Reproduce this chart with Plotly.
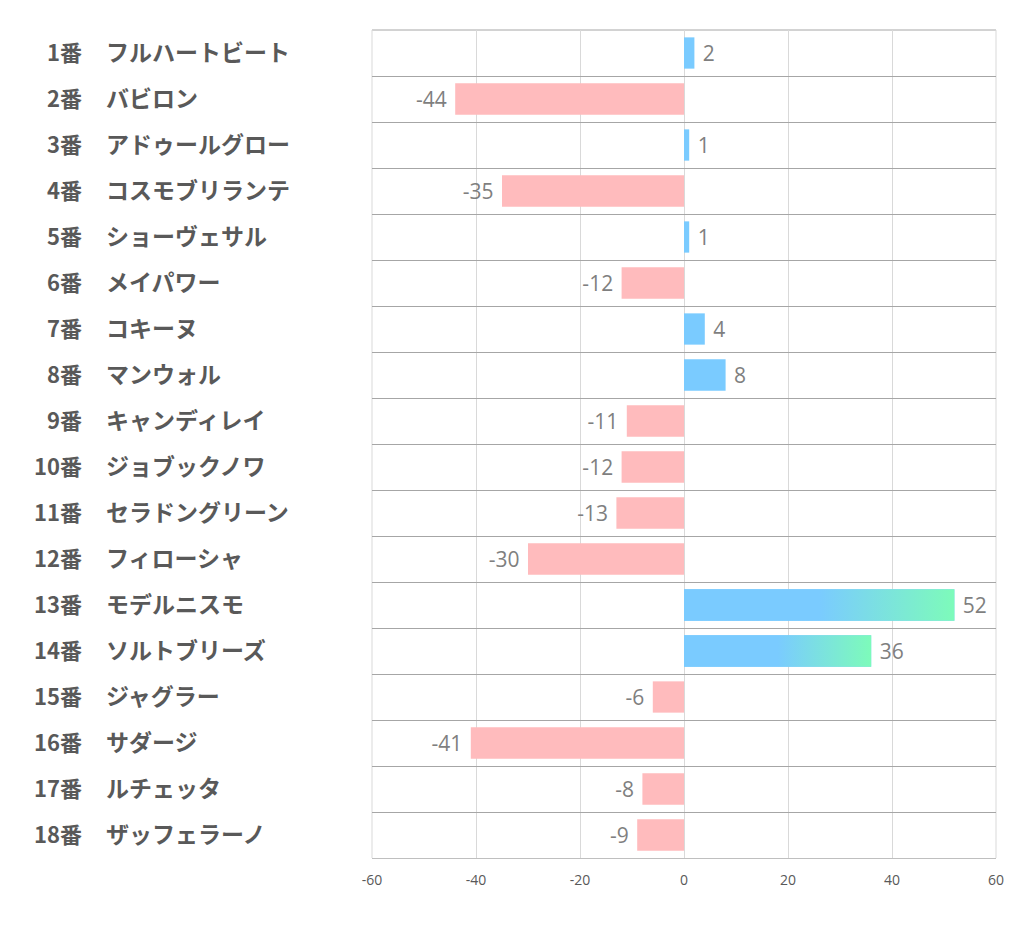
import plotly.graph_objects as go

numbers = ["1番", "2番", "3番", "4番", "5番", "6番", "7番", "8番", "9番",
           "10番", "11番", "12番", "13番", "14番", "15番", "16番", "17番", "18番"]
names = ["フルハートビート", "バビロン", "アドゥールグロー", "コスモブリランテ", "ショーヴェサル",
         "メイパワー", "コキーヌ", "マンウォル", "キャンディレイ", "ジョブックノワ",
         "セラドングリーン", "フィローシャ", "モデルニスモ", "ソルトブリーズ", "ジャグラー",
         "サダージ", "ルチェッタ", "ザッフェラーノ"]
values = [2, -44, 1, -35, 1, -12, 4, 8, -11, -12, -13, -30, 52, 36, -6, -41, -8, -9]
highlight = ["13番", "14番"]
x_ticks = [-60, -40, -20, 0, 20, 40, 60]

BLUE = "#7ACBFF"
PINK = "#FFBBBD"
GREEN = "#7DFBBA"
LABEL = "#595959"

n = len(values)
ypos = list(range(n))
bar_w = 0.68

fig = go.Figure()
fig.add_trace(go.Bar(
    x=values, y=ypos, orientation="h", width=bar_w,
    marker=dict(color=[BLUE if v >= 0 else PINK for v in values], line=dict(width=0)),
    text=[(" " + str(v)) if v >= 0 else (str(v) + " ") for v in values],
    textposition="outside",
    textfont=dict(family="Open Sans", size=21, color="#7F7F7F"),
    cliponaxis=False, hoverinfo="skip",
))

for num in highlight:
    i = numbers.index(num)
    v = values[i]
    h = bar_w / 2
    fig.add_trace(go.Scatter(
        x=[0, v, v, 0, 0], y=[i - h, i - h, i + h, i + h, i - h],
        mode="lines", line=dict(width=0), fill="toself",
        fillgradient=dict(type="horizontal",
                          colorscale=[[0, BLUE], [0.5, BLUE], [1, GREEN]]),
        hoverinfo="skip", showlegend=False,
    ))

for i in range(n):
    fig.add_annotation(x=-0.461, y=i, xref="paper", yref="y", text=numbers[i],
                       xanchor="right", yanchor="middle", showarrow=False, yshift=2,
                       font=dict(family="Noto Sans CJK JP", size=22, color=LABEL, weight="bold"))
    fig.add_annotation(x=-0.43, y=i, xref="paper", yref="y", text=names[i],
                       xanchor="left", yanchor="middle", showarrow=False, yshift=2,
                       font=dict(family="Noto Sans CJK JP", size=23, color=LABEL, weight="bold"))

# plot frame: dark top line, light left/right lines
fig.add_shape(type="line", xref="paper", yref="paper", x0=0, x1=1, y0=1, y1=1,
              line=dict(color="#A6A6A6", width=1), layer="below")
for xp in (0, 1):
    fig.add_shape(type="line", xref="paper", yref="paper", x0=xp, x1=xp, y0=0, y1=1,
                  line=dict(color="#D9D9D9", width=1), layer="below")

fig.update_layout(
    width=1014, height=931,
    margin=dict(l=364, r=26, t=22, b=81),
    plot_bgcolor="white", paper_bgcolor="white",
    showlegend=False, bargap=0.32,
    xaxis=dict(range=[-60, 60], tickvals=x_ticks, ticktext=[str(t) for t in x_ticks],
               showgrid=True, gridcolor="#D9D9D9", gridwidth=1, zeroline=False,
               showline=True, linecolor="#BFBFBF", linewidth=1, ticks="",
               ticklabelstandoff=9,
               tickfont=dict(family="Open Sans", size=14, color=LABEL), fixedrange=True),
    yaxis=dict(range=[n - 0.5, -0.5], tickvals=[k - 0.5 for k in range(n + 1)],
               showgrid=True, gridcolor="#A6A6A6", gridwidth=1, zeroline=False,
               showticklabels=False, ticks="", fixedrange=True),
)

fig.write_html("out.html")
